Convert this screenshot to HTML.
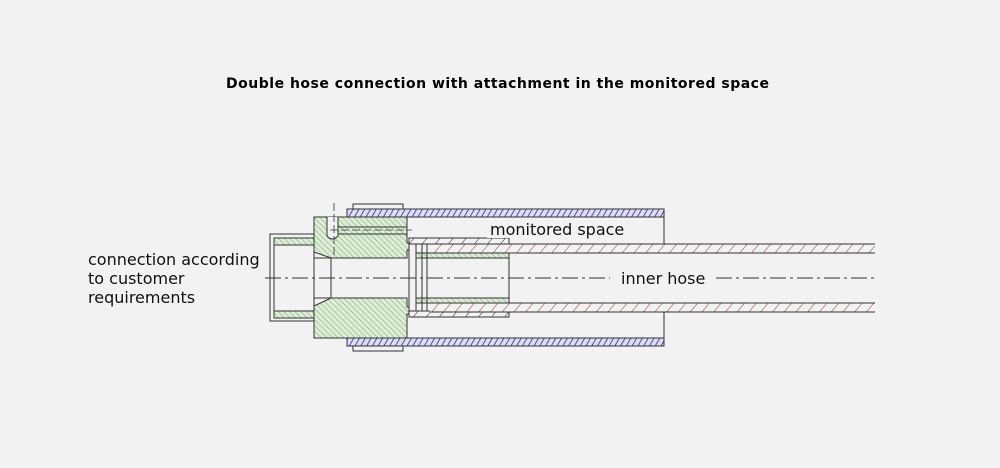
<!DOCTYPE html>
<html><head><meta charset="utf-8"><style>
html,body{margin:0;padding:0;background:#f2f2f2;}
svg{display:block;font-family:"DejaVu Sans","Liberation Sans",sans-serif;}
</style></head><body>
<svg width="1000" height="468" viewBox="0 0 1000 468" xmlns="http://www.w3.org/2000/svg">
<defs>
<pattern id="g" width="4" height="4" patternUnits="userSpaceOnUse" patternTransform="rotate(-45)">
<rect width="4" height="4" fill="#dcefd6"/><line x1="0" y1="0" x2="0" y2="4" stroke="#6a9a66" stroke-width="0.9"/></pattern>
<pattern id="b" width="5" height="5" patternUnits="userSpaceOnUse" patternTransform="rotate(30)">
<rect width="5" height="5" fill="#dedef0"/><line x1="0" y1="0" x2="0" y2="5" stroke="#2828a8" stroke-width="1.6"/></pattern>
<pattern id="r" width="9" height="9" patternUnits="userSpaceOnUse" patternTransform="rotate(40)">
<rect width="9" height="9" fill="#f2f2f2"/><line x1="0" y1="0" x2="0" y2="9" stroke="#a03030" stroke-width="1"/></pattern>
<pattern id="k" width="10" height="10" patternUnits="userSpaceOnUse" patternTransform="rotate(40)">
<rect width="10" height="10" fill="#f2f2f2"/><line x1="0" y1="0" x2="0" y2="10" stroke="#222" stroke-width="1"/></pattern>
</defs>
<text x="226" y="88" font-size="14" font-weight="bold" textLength="543" fill="#000">Double hose connection with attachment in the monitored space</text>

<g stroke="#333" stroke-width="1">
<rect x="353" y="204" width="50" height="5" fill="none"/>
<rect x="353" y="346" width="50" height="5" fill="none"/>
<rect x="347" y="209" width="317" height="8" fill="url(#b)"/>
<rect x="347" y="338" width="317" height="8" fill="url(#b)"/>
<line x1="664" y1="217" x2="664" y2="244"/>
<line x1="664" y1="312" x2="664" y2="338"/>
<rect x="270" y="234" width="44" height="87" fill="#f2f2f2"/>
<rect x="274" y="238" width="40" height="7" fill="url(#g)"/>
<rect x="274" y="311" width="40" height="7" fill="url(#g)"/>
<line x1="274" y1="245" x2="274" y2="311"/>
<path d="M314 217 H407 V243 H412 V250 H407 V258 H331 L314 252 Z" fill="url(#g)"/>
<path d="M314 338 H407 V314 H412 V307 H407 V298 H331 L314 306 Z" fill="url(#g)"/>
<line x1="314" y1="252" x2="314" y2="306"/>
<line x1="331" y1="258" x2="331" y2="298"/>
<line x1="314" y1="258" x2="407" y2="258"/>
<line x1="314" y1="298" x2="407" y2="298"/>
<path d="M327 217 V236 Q332 242 338 236 V217" fill="#f2f2f2"/>
<line x1="338" y1="227" x2="407" y2="227"/>
<line x1="338" y1="234" x2="407" y2="234"/>
<line x1="330" y1="230" x2="412" y2="230" stroke-dasharray="8,3" stroke-width="0.8"/>
<line x1="334" y1="203" x2="334" y2="258" stroke-dasharray="8,3" stroke-width="0.8"/>
<rect x="409" y="238" width="100" height="79" fill="#f2f2f2"/>
<rect x="409" y="238" width="100" height="6" fill="url(#k)"/>
<rect x="409" y="311" width="100" height="6" fill="url(#k)"/>
<rect x="416" y="253" width="93" height="5" fill="url(#g)"/>
<rect x="416" y="298" width="93" height="5" fill="url(#g)"/>
<line x1="416" y1="244" x2="416" y2="311"/>
<line x1="422" y1="244" x2="422" y2="311"/>
<line x1="427" y1="244" x2="427" y2="311"/>
<rect x="430" y="244" width="445" height="9" fill="url(#r)" stroke="none"/>
<rect x="430" y="303" width="445" height="9" fill="url(#r)" stroke="none"/>
<line x1="430" y1="244" x2="875" y2="244"/><line x1="430" y1="253" x2="875" y2="253"/>
<line x1="430" y1="303" x2="875" y2="303"/><line x1="430" y1="312" x2="875" y2="312"/>
<line x1="265" y1="278" x2="610" y2="278" stroke-dasharray="16,4,3,4" stroke-width="0.9"/>
<line x1="716" y1="278" x2="875" y2="278" stroke-dasharray="16,4,3,4" stroke-width="0.9"/>
</g>
<rect x="487" y="220" width="140" height="18" fill="#f2f2f2"/>
<text x="490" y="235" font-size="16" fill="#111">monitored space</text>
<text x="621" y="284" font-size="16" fill="#111">inner hose</text>
<text font-size="16" fill="#111"><tspan x="88" y="265">connection according</tspan><tspan x="88" y="284">to customer</tspan><tspan x="88" y="303">requirements</tspan></text>
</svg>
</body></html>
